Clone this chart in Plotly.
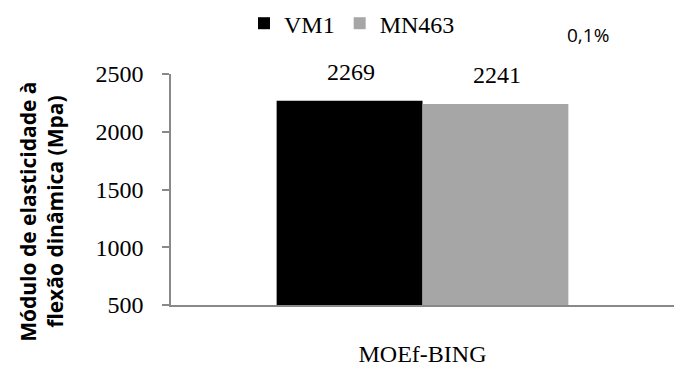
import plotly.graph_objects as go

# Dynamic modulus of elasticity in flexure (MOEf) measured by BING
categories = ["MOEf-BING"]
series_names = ["VM1", "MN463"]
series_values = [[2269], [2241]]
series_colors = ["#000000", "#a6a6a6"]
y_ticks = [500, 1000, 1500, 2000, 2500]
note_text = "0,1%"

serif = "Liberation Serif, Times New Roman, serif"
sans = "Open Sans, Calibri, sans-serif"
axis_gray = "#898989"

fig = go.Figure()
for name, vals, color in zip(series_names, series_values, series_colors):
    fig.add_trace(go.Bar(
        name=name, x=categories, y=vals,
        marker=dict(color=color, line=dict(width=0)),
    ))

# value labels above each bar
offsets = [-0.143, 0.148]
for vals, off in zip(series_values, offsets):
    for i, v in enumerate(vals):
        fig.add_annotation(
            x=i + off, y=v, xref="x", yref="y", text=str(v),
            showarrow=False, yshift=29,
            font=dict(family=serif, size=24, color="#000000"),
        )

# y-axis title (two lines, rotated)
fig.add_annotation(
    xref="paper", yref="paper",
    x=(42 - 171) / 503, y=(313 - 215) / 243,
    xanchor="center", yanchor="middle",
    text="Módulo de elasticidade à<br>flexão dinâmica (Mpa)",
    showarrow=False, textangle=-90,
    font=dict(family=sans, size=21, color="#000000", weight="bold"),
)

fig.add_annotation(
    x=(588 - 171) / 503, y=(313 - 29) / 243, xref="paper", yref="paper",
    text=note_text, showarrow=False, xanchor="center", yanchor="middle",
    font=dict(family=sans, size=19, color="#000000"),
)

fig.update_layout(
    width=675, height=368,
    margin=dict(l=171, r=1, t=70, b=55),
    paper_bgcolor="white", plot_bgcolor="white",
    barmode="group", bargap=0.42, bargroupgap=0,
    showlegend=True,
    legend=dict(
        orientation="h", x=(352 - 171) / 503, y=(313 - 17) / 243,
        xanchor="center", yanchor="middle",
        font=dict(family=serif, size=24, color="#000000"),
        itemwidth=30, tracegroupgap=0,
    ),
    xaxis=dict(
        type="category", showline=True, linecolor=axis_gray, linewidth=2,
        ticks="", showgrid=False, ticklabelstandoff=26,
        tickfont=dict(family=serif, size=24, color="#000000"),
    ),
    yaxis=dict(
        range=[500, 2500], tickvals=y_ticks, showline=True,
        linecolor=axis_gray, linewidth=1.5, ticks="outside", ticklen=7,
        tickcolor=axis_gray, tickwidth=1.5, showgrid=False, zeroline=False,
        tickfont=dict(family=serif, size=24, color="#000000"),
        ticklabelstandoff=14,
    ),
)

fig.write_html("out.html")
